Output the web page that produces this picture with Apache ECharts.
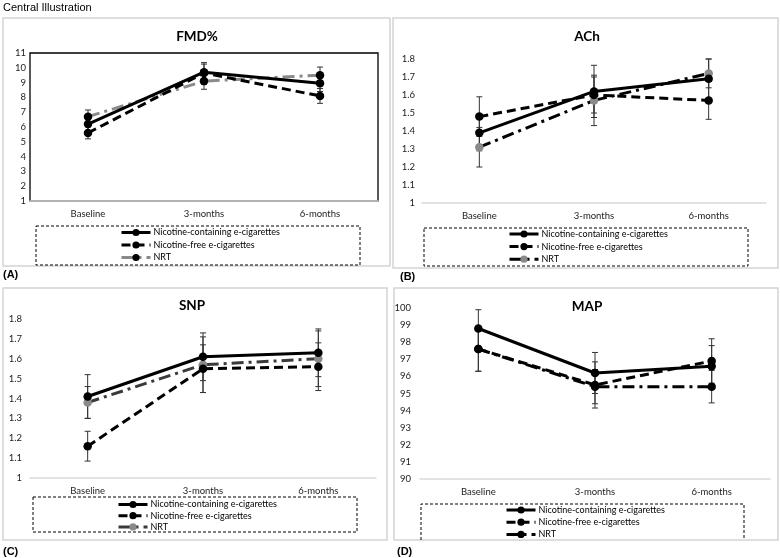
<!DOCTYPE html>
<html><head><meta charset="utf-8">
<script src="https://cdn.jsdelivr.net/npm/echarts@6/dist/echarts.min.js"></script>
<style>html,body{margin:0;padding:0;background:#fff}#c{width:780px;height:558px}</style>
</head><body><div id="c"></div>
<script>
// ---------- data ----------
const categories = ['Baseline', '3-months', '6-months'];
const seriesNames = ['Nicotine-containing e-cigarettes', 'Nicotine-free e-cigarettes', 'NRT'];
const panelTitles = ['FMD%', 'ACh', 'SNP', 'MAP'];
const panelLetters = ['(A)', '(B)', '(C)', '(D)'];
const figureTitle = 'Central Illustration';

// FMD%
const fmdNicotine = [6.2, 9.7, 8.95];
const fmdFree = [5.6, 9.65, 8.1];
const fmdNRT = [6.7, 9.1, 9.5];
const fmdNicotineErr = [0.45, 0.65, 0.55];
const fmdFreeErr = [0.4, 0.6, 0.5];
const fmdNRTErr = [0.45, 0.55, 0.55];
const fmdAxis = [1, 11, 1]; // min, max, interval

// ACh
const achNicotine = [1.39, 1.62, 1.69];
const achFree = [1.48, 1.60, 1.57];
const achNRT = [1.31, 1.57, 1.72];
const achNicotineErr = [0.10, 0.145, 0.11];
const achFreeErr = [0.11, 0.10, 0.105];
const achNRTErr = [0.11, 0.14, 0.08];
const achAxis = [1, 1.8, 0.1];

// SNP
const snpNicotine = [1.41, 1.61, 1.63];
const snpFree = [1.16, 1.55, 1.56];
const snpNRT = [1.38, 1.57, 1.60];
const snpNicotineErr = [0.11, 0.12, 0.12];
const snpFreeErr = [0.075, 0.12, 0.12];
const snpNRTErr = [0.08, 0.14, 0.14];
const snpAxis = [1, 1.8, 0.1];

// MAP
const mapNicotine = [98.8, 96.2, 96.6];
const mapFree = [97.6, 95.5, 96.9];
const mapNRT = [97.6, 95.4, 95.4];
const mapNicotineErr = [1.1, 1.2, 1.2];
const mapFreeErr = [1.3, 1.35, 1.3];
const mapNRTErr = [1.3, 1.0, 0.95];
const mapAxis = [90, 100, 1];

// ---------- layout / styles ----------
const FONT = 'Lato';
const layout = [
  { grid: {left: 30, top: 53, width: 348, height: 148}, title: [197, 37], legend: {left: 120, top: 228, gap: 3.5},
    box: [36, 226, 324, 39], border: [3, 18, 387, 248], letter: [3, 275], frame: true, labelMargin: 4,
    nrtLine: '#8a8a8a', nrtMarker: '#000' },
  { grid: {left: 422, top: 59, width: 344, height: 144}, title: [587, 37], legend: {left: 508, top: 229.5, gap: 3.6},
    box: [424, 228, 324, 38], border: [393, 18, 385, 250], letter: [400, 277], frame: false, labelMargin: 7,
    nrtLine: '#000', nrtMarker: '#8a8a8a' },
  { grid: {left: 30, top: 319, width: 346, height: 159}, title: [192, 306], legend: {left: 117, top: 500, gap: 2.2},
    box: [33, 497, 324, 35], border: [3, 288, 384, 252], letter: [3, 552], frame: false, labelMargin: 8,
    nrtLine: '#3a3a3a', nrtMarker: '#8a8a8a' },
  { grid: {left: 420, top: 308, width: 350, height: 171}, title: [587, 307], legend: {left: 505, top: 505.5, gap: 3.2},
    box: [421, 504, 323, 36], border: [394, 288, 384, 252], letter: [397, 552], frame: false, labelMargin: 9,
    nrtLine: '#000', nrtMarker: '#000' }
];

const panelData = [
  {vals: [fmdNicotine, fmdFree, fmdNRT], errs: [fmdNicotineErr, fmdFreeErr, fmdNRTErr], axis: fmdAxis},
  {vals: [achNicotine, achFree, achNRT], errs: [achNicotineErr, achFreeErr, achNRTErr], axis: achAxis},
  {vals: [snpNicotine, snpFree, snpNRT], errs: [snpNicotineErr, snpFreeErr, snpNRTErr], axis: snpAxis},
  {vals: [mapNicotine, mapFree, mapNRT], errs: [mapNicotineErr, mapFreeErr, mapNRTErr], axis: mapAxis}
];

const lineTypes = ['solid', [9, 5], [12, 5, 3, 5]];

function errRender(params, api) {
  const x = api.value(0), lo = api.value(1), hi = api.value(2);
  const pLo = api.coord([x, lo]);
  const pHi = api.coord([x, hi]);
  const w = 3;
  const style = {stroke: '#333', lineWidth: 1};
  return {type: 'group', children: [
    {type: 'line', shape: {x1: pLo[0], y1: pLo[1], x2: pHi[0], y2: pHi[1]}, style},
    {type: 'line', shape: {x1: pLo[0] - w, y1: pLo[1], x2: pLo[0] + w, y2: pLo[1]}, style},
    {type: 'line', shape: {x1: pHi[0] - w, y1: pHi[1], x2: pHi[0] + w, y2: pHi[1]}, style}
  ]};
}

const grids = [], xAxes = [], yAxes = [], series = [], legends = [], graphics = [];

graphics.push({type: 'text', left: 3, top: 2, style: {text: figureTitle, font: '11px "Liberation Sans", Arial, sans-serif', fill: '#000'}});

layout.forEach((L, p) => {
  const D = panelData[p];
  graphics.push({type: 'rect', z: -1, shape: {x: L.border[0], y: L.border[1], width: L.border[2], height: L.border[3]},
    style: {fill: null, stroke: '#d4d4d4', lineWidth: 1.5}});
  graphics.push({type: 'text', x: L.title[0], y: L.title[1], style: {text: panelTitles[p], font: 'bold 13.5px ' + FONT,
    fill: '#000', align: 'center', verticalAlign: 'middle'}});
  graphics.push({type: 'text', x: L.letter[0], y: L.letter[1], style: {text: panelLetters[p], font: 'bold 11px "Liberation Sans", Arial, sans-serif',
    fill: '#000', align: 'left', verticalAlign: 'middle'}});
  const b = L.box;
  if (p === 3) {
    graphics.push({type: 'polyline', shape: {points: [[b[0], b[1] + b[3]], [b[0], b[1]], [b[0] + b[2], b[1]], [b[0] + b[2], b[1] + b[3]]]},
      style: {fill: null, stroke: '#000', lineWidth: 1, lineDash: [3, 2]}});
  } else {
    graphics.push({type: 'rect', shape: {x: b[0], y: b[1], width: b[2], height: b[3]},
      style: {fill: null, stroke: '#000', lineWidth: 1, lineDash: [3, 2]}});
  }

  grids.push(Object.assign({show: L.frame, borderColor: '#000', borderWidth: 1.3, backgroundColor: 'transparent'}, L.grid));
  xAxes.push({type: 'category', gridIndex: p, data: categories, boundaryGap: true,
    axisLine: {show: true, lineStyle: {color: '#d9d9d9', width: 1.5}}, axisTick: {show: false},
    axisLabel: {fontFamily: FONT, fontSize: 9.5, color: '#222', margin: 8}, splitLine: {show: false}});
  yAxes.push({type: 'value', gridIndex: p, min: D.axis[0], max: D.axis[1], interval: D.axis[2],
    axisLine: {show: false}, axisTick: {show: false}, splitLine: {show: false},
    axisLabel: {fontFamily: FONT, fontSize: 9.5, color: '#222', margin: L.labelMargin}});

  const errData = [];
  D.vals.forEach((vals, s) => {
    vals.forEach((v, i) => errData.push([i, v - D.errs[s][i], v + D.errs[s][i]]));
  });
  series.push({type: 'custom', xAxisIndex: p, yAxisIndex: p, renderItem: errRender, data: errData,
    encode: {x: 0, y: [1, 2]}, z: 1, silent: true});

  D.vals.forEach((vals, s) => {
    const isNRT = s === 2;
    series.push({type: 'line', name: seriesNames[s], xAxisIndex: p, yAxisIndex: p, data: vals,
      symbol: 'circle', symbolSize: 8.5, z: 3 - s * 0.1 + 0.3,
      lineStyle: {color: isNRT ? L.nrtLine : '#000', width: 3, type: lineTypes[s], cap: 'butt'},
      itemStyle: {color: isNRT ? L.nrtMarker : '#000'}, animation: false});
  });

  legends.push({orient: 'vertical', left: L.legend.left, top: L.legend.top, padding: 0, itemGap: L.legend.gap,
    itemWidth: 29, itemHeight: 9, selectedMode: false,
    textStyle: {fontFamily: FONT, fontSize: 9, color: '#000', padding: [0, 0, 0, -2]},
    data: seriesNames.map((n, s) => ({name: n,
      itemStyle: {color: s === 2 ? L.nrtMarker : '#000'},
      lineStyle: {color: s === 2 ? L.nrtLine : '#000', width: 3, type: lineTypes[s]}}))});
});

const chart = echarts.init(document.getElementById('c'), null, {renderer: 'canvas'});
chart.setOption({animation: false, backgroundColor: '#fff', grid: grids, xAxis: xAxes, yAxis: yAxes,
  series, legend: legends, graphic: graphics});
</script></body></html>
